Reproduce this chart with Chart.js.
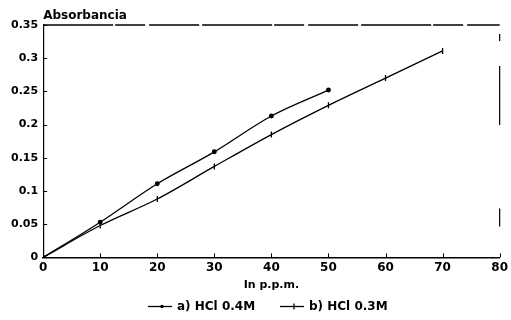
<!DOCTYPE html>
<html>
<head>
<meta charset="utf-8">
<script src="https://cdn.jsdelivr.net/npm/chart.js@4/dist/chart.umd.min.js"></script>
<style>
  html, body { margin: 0; padding: 0; background: #fff; }
  #wrap { width: 511px; height: 320px; }
</style>
</head>
<body>
<div id="wrap"><canvas id="absChart" width="511" height="320"></canvas></div>
<script>
// concentraciones (ppm) y absorbancias
const ppmA = [0, 10, 20, 30, 40, 50];
const absA = [0, 0.053, 0.111, 0.159, 0.213, 0.252];
const ppmB = [0, 10, 20, 30, 40, 50, 60, 70];
const absB = [0, 0.048, 0.088, 0.137, 0.185, 0.229, 0.270, 0.311];
const labelA = 'a) HCl 0.4M';
const labelB = 'b) HCl 0.3M';
const yTicks = [0, 0.05, 0.1, 0.15, 0.2, 0.25, 0.3, 0.35];
const xTicks = [0, 10, 20, 30, 40, 50, 60, 70, 80];

const family = "'DejaVu Sans', 'Liberation Sans', sans-serif";
const font = { family: family, size: 12, weight: 'bold' };

// marco, marcas hacia dentro, rotulo del eje y y leyenda
const frameAndTicks = {
    id: 'frameAndTicks',
    afterDraw(chart) {
        const ctx = chart.ctx;
        const x = chart.scales.x, y = chart.scales.y;
        const area = chart.chartArea;
        ctx.save();
        ctx.strokeStyle = '#000';
        // borde superior
        ctx.lineWidth = 1.5;
        ctx.setLineDash([70, 2, 30, 4, 50, 3]);
        ctx.beginPath();
        ctx.moveTo(area.left, area.top);
        ctx.lineTo(area.right, area.top);
        ctx.stroke();
        // borde derecho (roto)
        ctx.lineWidth = 1.2;
        ctx.setLineDash([]);
        ctx.beginPath();
        ctx.moveTo(area.right, area.top + 9);
        ctx.lineTo(area.right, area.top + 16);
        ctx.moveTo(area.right, area.top + 41);
        ctx.lineTo(area.right, area.top + 100);
        ctx.moveTo(area.right, area.bottom - 49);
        ctx.lineTo(area.right, area.bottom - 31);
        ctx.stroke();
        ctx.lineWidth = 1;
        yTicks.forEach(v => {
            const py = Math.round(y.getPixelForValue(v)) + 0.5;
            ctx.beginPath();
            ctx.moveTo(area.left, py);
            ctx.lineTo(area.left + 4, py);
            ctx.stroke();
        });
        xTicks.forEach(v => {
            const px = Math.round(x.getPixelForValue(v)) + 0.5;
            ctx.beginPath();
            ctx.moveTo(px, area.bottom);
            ctx.lineTo(px, area.bottom - 4);
            ctx.stroke();
        });
        ctx.fillStyle = '#000';
        ctx.font = 'bold 12px ' + family;
        ctx.textBaseline = 'bottom';
        ctx.fillText('Absorbancia', area.left, area.top - 3);

        // leyenda: linea corta con marcador + texto
        const ly = 306.5;
        ctx.textBaseline = 'middle';
        ctx.lineWidth = 1.3;
        const items = [
            { x0: 148, text: chart.data.datasets[0].label, mark: 'dot' },
            { x0: 280, text: chart.data.datasets[1].label, mark: 'bar' }
        ];
        items.forEach(it => {
            ctx.beginPath();
            ctx.moveTo(it.x0, ly);
            ctx.lineTo(it.x0 + 24, ly);
            ctx.stroke();
            const mx = it.x0 + 14;
            ctx.beginPath();
            if (it.mark === 'dot') {
                ctx.arc(mx, ly, 1.8, 0, Math.PI * 2);
                ctx.fill();
            } else {
                ctx.moveTo(mx, ly - 3);
                ctx.lineTo(mx, ly + 3);
                ctx.stroke();
            }
            ctx.fillText(it.text, it.x0 + 29, ly);
        });
        ctx.restore();
    }
};

const ctx = document.getElementById('absChart').getContext('2d');
new Chart(ctx, {
    type: 'line',
    data: {
        datasets: [
            {
                label: labelA,
                data: ppmA.map((p, i) => ({ x: p, y: absA[i] })),
                borderColor: '#000',
                backgroundColor: '#000',
                borderWidth: 1.3,
                pointStyle: 'circle',
                pointRadius: 1.8,
                cubicInterpolationMode: 'monotone'
            },
            {
                label: labelB,
                data: ppmB.map((p, i) => ({ x: p, y: absB[i] })),
                borderColor: '#000',
                backgroundColor: '#000',
                borderWidth: 1.3,
                pointStyle: 'line',
                rotation: 90,
                pointRadius: 3,
                pointBorderWidth: 1.3,
                cubicInterpolationMode: 'monotone'
            }
        ]
    },
    options: {
        responsive: false,
        animation: false,
        layout: { padding: { top: 25, right: 9, left: 6, bottom: 28 } },
        scales: {
            x: {
                type: 'linear',
                min: 0,
                max: 80,
                afterBuildTicks: s => { s.ticks = xTicks.map(v => ({ value: v })); },
                grid: { display: false, drawTicks: false },
                border: { display: true, color: '#000', width: 1.5 },
                ticks: { color: '#000', font: font, padding: 3 },
                title: { display: true, text: 'In p.p.m.', color: '#000', font: { ...font, size: 11 }, padding: { top: 1, bottom: 0 } }
            },
            y: {
                min: 0,
                max: 0.35,
                afterBuildTicks: s => { s.ticks = yTicks.map(v => ({ value: v })); },
                grid: { display: false, drawTicks: false },
                border: { display: true, color: '#000', width: 1.2, dash: [6, 2] },
                ticks: { color: '#000', font: { ...font, size: 11 }, padding: 5, callback: v => String(+v.toFixed(2)) }
            }
        },
        plugins: {
            legend: { display: false },
            tooltip: { enabled: false }
        }
    },
    plugins: [frameAndTicks]
});
</script>
</body>
</html>
